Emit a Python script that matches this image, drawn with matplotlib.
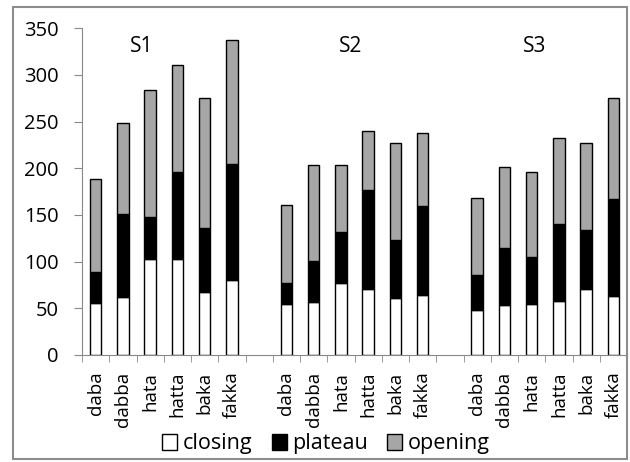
import matplotlib
matplotlib.use("Agg")
import matplotlib.pyplot as plt
from matplotlib.patches import Rectangle, Patch
import numpy as np

plt.rcParams['font.family'] = ['Open Sans', 'DejaVu Sans']

words = ['daba', 'dabba', 'hata', 'hatta', 'baka', 'fakka']
groups = ['S1', 'S2', 'S3']

# cumulative tops (ms)
closing_top = [[56, 62, 103, 103, 68, 80],
               [55, 57, 77, 71, 61, 64],
               [48, 54, 55, 58, 71, 63]]
plateau_top = [[89, 151, 148, 196, 136, 205],
               [77, 101, 132, 177, 123, 160],
               [86, 115, 105, 140, 134, 167]]
totals = [[189, 249, 284, 311, 275, 337],
          [161, 204, 204, 240, 227, 238],
          [168, 201, 196, 233, 227, 275]]

# flatten with an empty slot between groups
pos, labels, closing, plateau, opening = [], [], [], [], []
slot = 0
for g in range(3):
    for w in range(6):
        pos.append(slot)
        labels.append(words[w])
        closing.append(closing_top[g][w])
        plateau.append(plateau_top[g][w] - closing_top[g][w])
        opening.append(totals[g][w] - plateau_top[g][w])
        slot += 1
    slot += 1
n_slots = slot - 1
pos = np.array(pos)
closing = np.array(closing)
plateau = np.array(plateau)
opening = np.array(opening)

fig = plt.figure(figsize=(6.3, 4.62), dpi=100)
ax = fig.add_axes([82 / 630, 1 - 355 / 462, 545 / 630, 326.7 / 462])

w = 0.42
ax.bar(pos, closing, w, color='white', edgecolor='black', linewidth=1)
ax.bar(pos, plateau, w, bottom=closing, color='black', edgecolor='black', linewidth=1)
ax.bar(pos, opening, w, bottom=closing + plateau, color='#a6a6a6', edgecolor='black', linewidth=1)

ax.set_xlim(-0.5, n_slots - 0.5)
ax.set_ylim(0, 350)
ax.set_yticks(range(0, 351, 50))
ax.tick_params(axis='y', direction='out', length=6, color='#888888', labelsize=14.5, pad=11)

ax.set_xticks(pos)
ax.set_xticklabels(labels, rotation=90, fontsize=13.5)
ax.set_xticks(np.arange(-0.5, n_slots, 1), minor=True)
ax.tick_params(axis='x', which='major', length=0, pad=12)
ax.tick_params(axis='x', which='minor', direction='out', length=5, color='#888888')

for s in ['top', 'right']:
    ax.spines[s].set_visible(False)
for s in ['left', 'bottom']:
    ax.spines[s].set_color('#888888')

group_x = [1.7, 9.35, 16.1]
for gx, gname in zip(group_x, groups):
    ax.text(gx, 331, gname, ha='center', va='center', fontsize=15)

handles = [Patch(facecolor='white', edgecolor='black', label='closing'),
           Patch(facecolor='black', edgecolor='black', label='plateau'),
           Patch(facecolor='#a6a6a6', edgecolor='black', label='opening')]
fig.legend(handles=handles, loc='center', bbox_to_anchor=(326 / 630, 1 - 444 / 462),
           ncol=3, frameon=False, fontsize=15.5, handlelength=0.7, handleheight=0.7,
           handletextpad=0.25, columnspacing=0.9, borderpad=0)

# outer frame of the chart
fig.patches.append(Rectangle((13 / 630, 3 / 462), 614 / 630, 452 / 462,
                             transform=fig.transFigure, fill=False,
                             edgecolor='#8c8c8c', linewidth=1.5))

# caption line above the chart, only its lowest strokes show
fig.text(0.45, 1 + 4.5 / 462, 'Mean phase durations (in ms) by syllable type',
         ha='center', va='baseline', fontsize=14, family='Liberation Serif')

fig.savefig('out.png', dpi=100)
